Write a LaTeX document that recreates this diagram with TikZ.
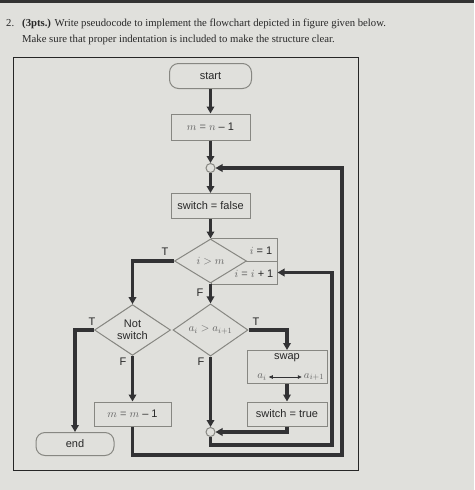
\documentclass[tikz,border=0pt]{standalone}
\usepackage{fontspec}
\setmainfont{Liberation Serif}
\newfontfamily\flowfont{Liberation Sans}
\usetikzlibrary{shapes.geometric,arrows.meta}
\definecolor{bgc}{RGB}{224,224,220}
\definecolor{boxline}{RGB}{135,135,130}
\definecolor{flowc}{RGB}{50,50,52}
\definecolor{txtc}{RGB}{40,40,40}
\definecolor{mathc}{RGB}{100,100,100}
\begin{document}
\begin{tikzpicture}[x=1pt,y=-1pt,
  every node/.style={text=txtc},
  shp/.style={draw=boxline, fill=bgc, line width=1pt, inner sep=0pt,
    font=\flowfont\fontsize{11}{12.5}\selectfont},
  procbox/.style={shp, rectangle},
  termbox/.style={shp, rectangle, rounded corners=9pt},
  decbox/.style={shp, diamond, align=center},
  joint/.style={draw=boxline, fill=bgc, line width=1pt, circle, minimum size=9pt, inner sep=0pt},
  flow/.style={draw=flowc, line width=3.2pt, -{Triangle[length=7pt,width=7.5pt]}},
  lbl/.style={font=\flowfont\fontsize{11}{12}\selectfont, inner sep=0pt},
  mth/.style={text=mathc}
]
\useasboundingbox (0,0) rectangle (474,490);
\fill[bgc] (0,0) rectangle (474,490);
\fill[black!80] (0,0) rectangle (474,3);

% title
\node[anchor=base west, inner sep=0pt, font=\fontsize{10.7}{12}\selectfont] (t1) at (6,26) {2.};
\node[anchor=base west, inner sep=0pt, font=\fontsize{10.7}{12}\selectfont] (t2) at (22,26) {\textbf{(3pts.)} Write pseudocode to implement the flowchart depicted in figure given below.};
\node[anchor=base west, inner sep=0pt, font=\fontsize{10.7}{12}\selectfont] (t3) at (22,42) {Make sure that proper indentation is included to make the structure clear.};

% frame
\draw[draw=black!85, line width=1pt] (13,57) rectangle (358,470);

% side box behind diamond
\node[procbox, minimum width=66pt, minimum height=23pt] (iset) at (244,249.5) {};
\node[procbox, minimum width=66pt, minimum height=23pt] (iinc) at (244,272.5) {};
\node[lbl] (isetl) at (261,251) {\textcolor{mathc}{$i$} = 1};
\node[lbl] (iincl) at (254,274) {\textcolor{mathc}{$i$ = $i$} + 1};

% nodes
\node[termbox, minimum width=82pt, minimum height=25pt] (start) at (210.5,76) {start};
\node[procbox, minimum width=79pt, minimum height=26pt] (mn1) at (210.5,127) {\textcolor{mathc}{$m$ = $n$} \textendash{} 1};
\node[joint] (j1) at (210.5,168) {};
\node[procbox, minimum width=79pt, minimum height=25pt] (sf) at (210.5,206) {switch = false};
\node[decbox, minimum width=72pt, minimum height=44pt] (d1) at (210.5,261) {\textcolor{mathc}{$i > m$}};
\node[decbox, minimum width=76pt, minimum height=48pt] (d2) at (132.5,330) {Not\\switch};
\node[decbox, minimum width=75pt, minimum height=44pt] (d3) at (210.5,330) {\textcolor{mathc}{$a_i > a_{i+1}$}};
\node[termbox, minimum width=78pt, minimum height=23pt] (end) at (75,444) {end};
\node[procbox, minimum width=77pt, minimum height=24pt] (mm1) at (132.5,414) {\textcolor{mathc}{$m$ = $m$} \textendash{} 1};
\node[procbox, minimum width=80pt, minimum height=33pt] (swap) at (287,367) {};
\node[lbl] (swapl) at (287,358) {swap};
\node[lbl, mth] (aj) at (262,377) {$a_i$};
\node[lbl, mth] (aj1) at (314,377) {$a_{i+1}$};
\draw[draw=flowc, line width=0.7pt, {Triangle[length=4pt,width=3.5pt]}-{Triangle[length=4pt,width=3.5pt]}] ([xshift=2pt]aj.east) -- ([xshift=-2pt]aj1.west);
\node[procbox, minimum width=80pt, minimum height=24pt] (st) at (287,414) {switch = true};
\node[joint] (j2) at (210.5,432) {};

% labels
\node[lbl] (lt1) at (165,252) {T};
\node[lbl] (lf1) at (200,293) {F};
\node[lbl] (lt2) at (92,322) {T};
\node[lbl] (lf2) at (123,362) {F};
\node[lbl] (lt3) at (256,322) {T};
\node[lbl] (lf3) at (201,362) {F};

% loop coordinates
\coordinate (o1) at (342,455);
\coordinate (o2) at (342,168);
\coordinate (i1) at (332,445);

% connectors
\draw[flow] (start.south) -- (mn1.north);
\draw[flow] (mn1.south) -- (j1.north);
\draw[flow] (j1.south) -- (sf.north);
\draw[flow] (sf.south) -- (d1.north);
\draw[flow] (d1.west) -| (d2.north);
\draw[flow] (d1.south) -- (d3.north);
\draw[flow] (d2.west) -| (end.north);
\draw[flow] (d2.south) -- (mm1.north);
\draw[flow] (mm1.south) |- (o1) -- (o2) -- (j1.east);
\draw[flow] (d3.east) -| (swap.north);
\draw[flow] (swap.south) -- (st.north);
\draw[flow] (st.south) |- (j2.east);
\draw[flow] (d3.south) -- (j2.north);
\draw[flow] (j2.south) |- (i1) -- (i1 |- iinc.east) -- (iinc.east);
\end{tikzpicture}
\end{document}
